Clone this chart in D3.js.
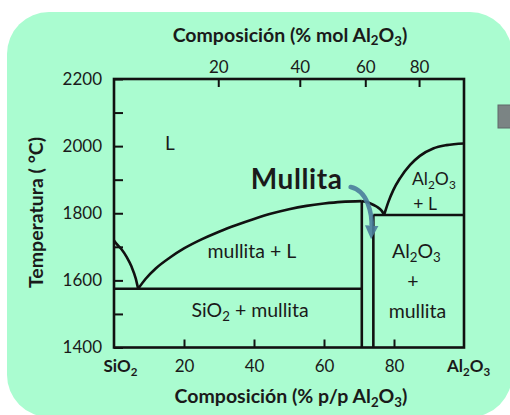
<!DOCTYPE html>
<html>
<head>
<meta charset="utf-8">
<script src="https://cdn.jsdelivr.net/npm/d3@7"></script>
<style>
  body { margin: 0; background: #fff; }
  svg text { font-family: Lato, "Open Sans", sans-serif; fill: #1a1a1a; }
</style>
</head>
<body>
<div id="container"></div>
<script>
// temperatures (°C) and compositions (wt% Al2O3)
const tempTicks = [1400, 1600, 1800, 2000, 2200];
const tempMinor = [1400, 1500, 1600, 1700, 1800, 1900, 2000, 2100, 2200];
const wtTicks = [0, 20, 40, 60, 80, 100];
const molTicks = [20, 40, 60, 80];

const silicaLiquidus = [[0, 1719], [0.8, 1708], [2.2, 1692], [3.6, 1670], [5.0, 1641], [6.2, 1606], [6.9, 1575]];
const mulliteLiquidus = [[6.9, 1575], [9, 1604], [12, 1636], [16, 1668], [20, 1695], [25, 1722], [30, 1745],
  [35, 1765], [40, 1783], [45, 1799], [50, 1812], [55, 1822], [60, 1829], [65, 1834], [70.8, 1836]];
const peritecticArc = [[70.8, 1836], [72, 1834], [73.1, 1830], [75.0, 1820], [76.5, 1807], [77.2, 1796]];
const aluminaLiquidus = [[77.2, 1796], [78.4, 1834], [79.8, 1869], [81.7, 1904], [84.6, 1944], [87.4, 1971],
  [91.2, 1993], [95.0, 2003], [100, 2008]];
const eutecticLine = [[0, 1575], [70.8, 1575]];
const mulliteLeft = [[70.8, 1836], [70.8, 1400]];
const mulliteRight = [[74.1, 1795], [74.1, 1400]];
const peritecticLine = [[74.1, 1795], [100, 1795]];
const arrowPts = [[67.6, 1878], [72.4, 1868], [73.8, 1800], [73.6, 1755]];

const width = 510, height = 415;
const svg = d3.select('#container').append('svg').attr('width', width).attr('height', height);

// green card behind the chart
svg.append('rect').attr('x', 7).attr('y', 12).attr('width', 505).attr('height', 405)
  .attr('rx', 42).attr('fill', 'rgb(170, 252, 208)');
svg.append('rect').attr('x', 498).attr('y', 105).attr('width', 16).attr('height', 23)
  .attr('fill', '#7b8484').attr('stroke', '#5f6868');

const x = d3.scaleLinear().domain([0, 100]).range([114, 464]);
const y = d3.scaleLinear().domain([1400, 2200]).range([347.5, 79]);
const molToWt = m => 100 * m * 101.96 / (m * 101.96 + (100 - m) * 60.08);

const line = d3.line().x(d => x(d[0])).y(d => y(d[1]));
const curve = d3.line().x(d => x(d[0])).y(d => y(d[1])).curve(d3.curveMonotoneX);

// subscript helper: parts like ['Al', '2', 'O', '3'] with odd items as subscripts
function chem(sel, parts) {
  parts.forEach((p, i) => {
    const sub = i % 2 === 1;
    sel.append('tspan').text(p)
      .attr('font-size', sub ? '0.68em' : null)
      .attr('dy', sub ? '0.3em' : (i > 0 ? '-0.2em' : null));
  });
}

// axes
const axLeft = svg.append('g').attr('transform', `translate(${x(0)},0)`)
  .call(d3.axisLeft(y).tickValues(tempMinor).tickSize(-9).tickPadding(12).tickSizeOuter(0)
    .tickFormat(d => tempTicks.includes(d) ? d : ''));
const axBottom = svg.append('g').attr('transform', `translate(0,${y(1400)})`)
  .call(d3.axisBottom(x).tickValues(wtTicks).tickSize(-8).tickPadding(12.5).tickSizeOuter(0)
    .tickFormat(d => (d === 0 || d === 100) ? '' : d));
const axTop = svg.append('g').attr('transform', `translate(0,${y(2200)})`)
  .call(d3.axisTop(x).tickValues(molTicks.map(molToWt)).tickSize(-8).tickPadding(6.5).tickSizeOuter(0)
    .tickFormat((d, i) => molTicks[i]));

[axLeft, axBottom, axTop].forEach(g => {
  g.select('.domain').remove();
  g.selectAll('line').attr('stroke', '#111').attr('stroke-width', 2);
  g.selectAll('text').attr('font-size', 17).attr('font-family', 'Lato').style('fill', '#1a1a1a');
});
axBottom.selectAll('.tick').filter(d => d === 0 || d === 100).select('line').remove();

// end labels of bottom axis
axBottom.selectAll('.tick').filter(d => d === 0).select('text')
  .attr('font-weight', 'bold').attr('dx', 6).call(t => chem(t, ['SiO', '2']));
axBottom.selectAll('.tick').filter(d => d === 100).select('text')
  .attr('font-weight', 'bold').attr('dx', 4).call(t => chem(t, ['Al', '2', 'O', '3']));

// frame
svg.append('rect').attr('x', x(0)).attr('y', y(2200))
  .attr('width', x(100) - x(0)).attr('height', y(1400) - y(2200))
  .attr('fill', 'none').attr('stroke', '#111').attr('stroke-width', 2.6);

// phase boundaries
const g = svg.append('g').attr('fill', 'none').attr('stroke', '#111').attr('stroke-width', 2.6);
[silicaLiquidus, mulliteLiquidus, peritecticArc, aluminaLiquidus].forEach(d => g.append('path').attr('d', curve(d)));
[eutecticLine, mulliteLeft, mulliteRight, peritecticLine].forEach(d => g.append('path').attr('d', line(d)));

// arrow
svg.append('defs').append('marker').attr('id', 'head')
  .attr('viewBox', '0 0 10 10').attr('refX', 2).attr('refY', 5)
  .attr('markerWidth', 3).attr('markerHeight', 3.2).attr('orient', 'auto')
  .append('path').attr('d', 'M0,0L10,5L0,10z').attr('fill', '#4b7e9c');
const ap = d3.path();
ap.moveTo(x(arrowPts[0][0]), y(arrowPts[0][1]));
ap.bezierCurveTo(x(arrowPts[1][0]), y(arrowPts[1][1]), x(arrowPts[2][0]), y(arrowPts[2][1]),
  x(arrowPts[3][0]), y(arrowPts[3][1]));
svg.append('path').attr('d', ap.toString()).attr('fill', 'none')
  .attr('stroke', '#4b7e9c').attr('stroke-width', 4.5).attr('stroke-linecap', 'round')
  .attr('opacity', 0.9).attr('marker-end', 'url(#head)');

// titles
svg.append('text').attr('x', 290).attr('y', 41.5).attr('text-anchor', 'middle')
  .attr('font-size', 19.5).attr('font-weight', 'bold')
  .call(t => chem(t, ['Composición (% mol Al', '2', 'O', '3', ')']));
svg.append('text').attr('x', 291).attr('y', 403).attr('text-anchor', 'middle')
  .attr('font-size', 19.5).attr('font-weight', 'bold')
  .call(t => chem(t, ['Composición (% p/p Al', '2', 'O', '3', ')']));
svg.append('text').attr('transform', 'translate(43,212.5) rotate(-90)').attr('text-anchor', 'middle')
  .attr('font-size', 19.5).attr('font-weight', 'bold').text('Temperatura ( °C)');

// region labels
const lab = (px, py, size) => svg.append('text').attr('x', x(px)).attr('y', y(py))
  .attr('text-anchor', 'middle').attr('font-size', size);
lab(16, 1988, 19).text('L');
lab(52.2, 1872, 28).attr('font-weight', 'bold').attr('letter-spacing', 0.6).text('Mullita');
lab(39.4, 1666, 19.5).text('mullita + L');
lab(38.9, 1492, 19.5).call(t => chem(t, ['SiO', '2', ' + mullita']));
lab(86.4, 1667, 19.5).call(t => chem(t, ['Al', '2', 'O', '3']));
lab(85.4, 1577, 19.5).text('+');
lab(86.7, 1487, 19.5).text('mullita');
lab(91.4, 1883, 17.5).call(t => chem(t, ['Al', '2', 'O', '3']));
lab(88.9, 1810, 17.5).text('+ L');
</script>
</body>
</html>
